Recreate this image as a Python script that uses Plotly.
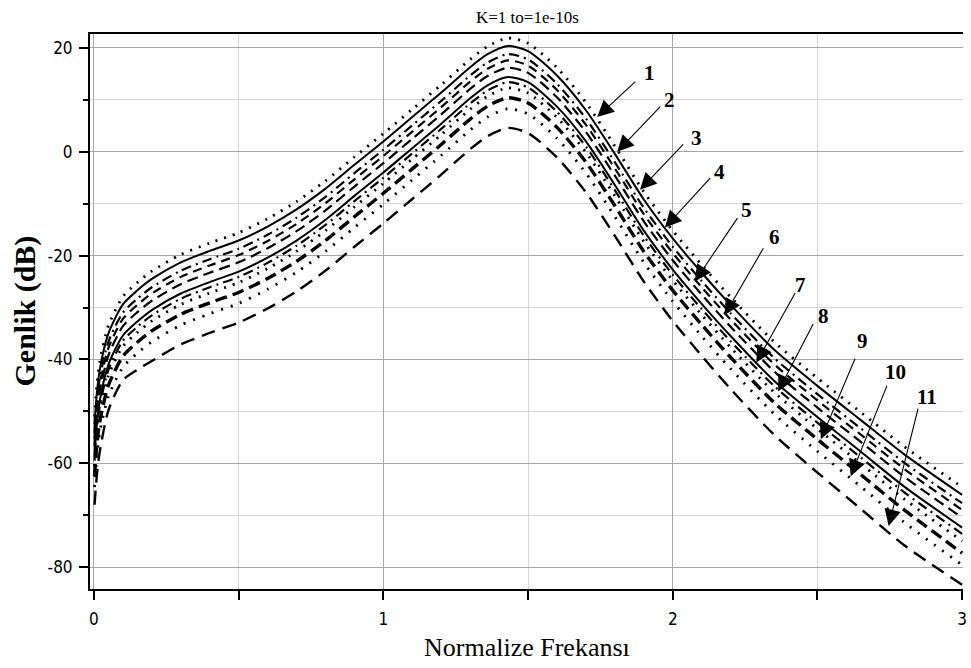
import plotly.graph_objects as go

# ---------------- data ----------------
X = [0.002, 0.01, 0.02, 0.05, 0.1, 0.15, 0.2, 0.3, 0.4, 0.5, 0.6, 0.7, 0.8, 0.9,
     1.0, 1.1, 1.2, 1.3, 1.36, 1.43, 1.5, 1.6, 1.7, 1.8, 1.9, 2.0, 2.1, 2.2,
     2.35, 2.5, 2.65, 2.8, 3.0]

c1 = [-51, -45, -40.5, -33.5, -27.9, -25.2, -23.0, -19.8, -17.6, -15.6, -12.9, -9.6, -5.6, -1.0,
      3.5, 8.2, 12.9, 17.8, 20.3, 21.9, 20.9, 16.2, 9.5, 1.1, -7.7, -15.2, -21.8, -28.0,
      -36.6, -43.6, -50.2, -56.8, -64.6]
c2 = [-52.5, -46.5, -42.0, -35.0, -29.4, -26.7, -24.5, -21.3, -19.1, -17.1, -14.4, -11.1, -7.1, -2.5,
      2.0, 6.7, 11.4, 16.3, 18.8, 20.4, 19.4, 14.7, 8.0, -0.4, -9.2, -16.7, -23.3, -29.5,
      -38.1, -45.1, -51.7, -58.3, -66.1]
c3 = [-54.1, -48.1, -43.6, -36.6, -31.0, -28.3, -26.1, -22.9, -20.7, -18.7, -16.0, -12.7, -8.7, -4.1,
      0.4, 5.1, 9.8, 14.7, 17.2, 18.8, 17.8, 13.1, 6.4, -2.0, -10.8, -18.3, -24.9, -31.1,
      -39.7, -46.7, -53.3, -59.9, -67.7]
c4 = [-55.3, -49.3, -44.8, -37.8, -32.2, -29.5, -27.3, -24.1, -21.9, -19.9, -17.2, -13.9, -9.9, -5.3,
      -0.8, 3.9, 8.6, 13.5, 16.0, 17.6, 16.6, 11.9, 5.2, -3.2, -12.0, -19.5, -26.1, -32.3,
      -40.9, -47.9, -54.5, -61.1, -69.0]
c5 = [-56.7, -50.7, -46.2, -39.2, -33.6, -30.9, -28.7, -25.5, -23.3, -21.3, -18.6, -15.3, -11.3, -6.7,
      -2.2, 2.5, 7.2, 12.1, 14.6, 16.2, 15.2, 10.5, 3.8, -4.6, -13.4, -20.9, -27.5, -33.7,
      -42.3, -49.3, -55.9, -62.6, -70.5]
c6 = [-58.5, -52.5, -48.0, -41.0, -35.4, -32.7, -30.5, -27.3, -25.1, -23.1, -20.4, -17.1, -13.1, -8.5,
      -4.0, 0.7, 5.4, 10.3, 12.8, 14.4, 13.4, 8.7, 2.0, -6.4, -15.2, -22.7, -29.3, -35.5,
      -44.1, -51.1, -57.8, -64.5, -72.4]
c7 = [-59.5, -53.5, -49.0, -42.0, -36.4, -33.7, -31.5, -28.3, -26.1, -24.1, -21.4, -18.1, -14.1, -9.5,
      -5.0, -0.3, 4.4, 9.3, 11.8, 13.4, 12.4, 7.7, 1.0, -7.4, -16.2, -23.7, -30.3, -36.5,
      -45.1, -52.2, -58.9, -65.6, -73.6]
c8 = [-60.6, -54.6, -50.1, -43.1, -37.5, -34.8, -32.6, -29.4, -27.2, -25.2, -22.5, -19.2, -15.2, -10.6,
      -6.1, -1.4, 3.3, 8.2, 10.7, 12.3, 11.3, 6.6, -0.1, -8.5, -17.3, -24.8, -31.4, -37.7,
      -46.3, -53.4, -60.1, -66.9, -75.0]
c9 = [-62.5, -56.5, -52.0, -45.0, -39.4, -36.7, -34.5, -31.3, -29.1, -27.1, -24.4, -21.1, -17.1, -12.5,
      -8.0, -3.3, 1.4, 6.3, 8.8, 10.4, 9.4, 4.7, -2.0, -10.4, -19.2, -26.7, -33.3, -39.6,
      -48.3, -55.4, -62.2, -69.0, -77.3]
c10 = [-64.6, -58.6, -54.1, -47.1, -41.5, -38.8, -36.6, -33.4, -31.2, -29.2, -26.5, -23.2, -19.2, -14.6,
       -10.1, -5.4, -0.7, 4.2, 6.7, 8.3, 7.3, 2.6, -4.1, -12.5, -21.3, -28.8, -35.5, -41.8,
       -50.5, -57.7, -64.5, -71.4, -79.6]
c11 = [-68.0, -62.3, -57.8, -49.8, -44.0, -42.0, -40.3, -37.1, -34.9, -32.9, -30.2, -26.9, -22.9, -18.3,
       -13.8, -9.1, -4.4, 0.5, 3.0, 4.6, 3.6, -1.1, -7.8, -16.2, -25.0, -32.6, -39.3, -45.7,
       -54.5, -61.8, -68.8, -75.8, -83.4]

SERIES = [c1, c2, c3, c4, c5, c6, c7, c8, c9, c10, c11]
CURVE_LABELS = ["1", "2", "3", "4", "5", "6", "7", "8", "9", "10", "11"]

Y_TICKS = [20, 0, -20, -40, -60, -80]
Y_TICK_TEXT = ["20", "0", "-20", "-40", "-60", "-80"]
X_TICKS = [0, 1, 2, 3]
X_TICK_TEXT = ["0", "1", "2", "3"]

# ---------------- styles ----------------
STYLES = [
    ("2px,7px", 2.8),
    ("solid", 2.0),
    ("10px,5px,2px,5px", 2.2),
    ("9px,6px", 2.2),
    ("11px,6px", 2.2),
    ("solid", 2.0),
    ("10px,5px,2px,5px", 2.2),
    ("2px,7px", 2.8),
    ("12px,6px", 3.4),
    ("2px,8px", 2.8),
    ("14px,8px", 2.4),
]

# arrow annotation geometry (tip, tail, label) in data coordinates
ARROW_TIP = [(1.739, 6.7), (1.808, 0.0), (1.887, -7.3), (1.973, -14.6), (2.076, -25.0),
             (2.179, -31.5), (2.289, -40.6), (2.364, -46.2), (2.512, -55.4), (2.615, -62.5),
             (2.746, -72.1)]
ARROW_TAIL = [(1.876, 13.8), (1.962, 9.0), (2.041, 1.7), (2.134, -4.8), (2.227, -12.5),
              (2.316, -18.3), (2.426, -26.9), (2.488, -32.9), (2.632, -39.6), (2.742, -44.8),
              (2.849, -49.2)]
LABEL_POS = [(1.921, 15.2), (1.990, 10.0), (2.082, 2.7), (2.162, -3.8), (2.254, -11.2),
             (2.351, -16.5), (2.443, -25.6), (2.522, -31.7), (2.656, -36.5), (2.770, -42.5),
             (2.880, -47.3)]

SERIF = "Liberation Serif, Times New Roman, serif"

fig = go.Figure()
for ys, (dash, w) in zip(SERIES, STYLES):
    fig.add_trace(go.Scatter(
        x=X, y=ys, mode="lines",
        line=dict(color="black", width=w, dash=dash, shape="spline", smoothing=0.7),
        showlegend=False, hoverinfo="skip"))

annotations = []
for (tx, ty), (ax, ay) in zip(ARROW_TIP, ARROW_TAIL):
    annotations.append(dict(
        x=tx, y=ty, ax=ax, ay=ay, xref="x", yref="y", axref="x", ayref="y",
        text="", showarrow=True, arrowhead=2, arrowsize=3.0, arrowwidth=1.1,
        arrowcolor="black", standoff=0, startstandoff=0))
for (lx, ly), lab in zip(LABEL_POS, CURVE_LABELS):
    annotations.append(dict(
        x=lx, y=ly, xref="x", yref="y", text="<b>%s</b>" % lab, showarrow=False,
        font=dict(family=SERIF, size=21, color="black"),
        xanchor="center", yanchor="middle"))

annotations.append(dict(
    x=0.5, y=0, xref="paper", yref="paper", yshift=-58, xanchor="center", yanchor="middle",
    text="Normalize Frekansı", showarrow=False,
    font=dict(family=SERIF, size=26, color="black")))
annotations.append(dict(
    x=0, y=0.5, xref="paper", yref="paper", xshift=-66, xanchor="center", yanchor="middle",
    text="<b>Genlik (dB)</b>", textangle=-90, showarrow=False,
    font=dict(family=SERIF, size=30, color="black")))
annotations.append(dict(
    x=487 / 971, y=1, xref="paper", yref="paper", yshift=17, xanchor="center", yanchor="middle",
    text="K=1 to=1e-10s", showarrow=False,
    font=dict(family=SERIF, size=17, color="black")))

tick_font = dict(family="DejaVu Sans Condensed, Liberation Sans Narrow, Liberation Sans, sans-serif",
                 size=17, color="black")

fig.update_layout(
    width=971, height=668,
    margin=dict(l=90, r=4, t=34, b=79),
    paper_bgcolor="white", plot_bgcolor="white",
    annotations=annotations,
    xaxis=dict(
        range=[-0.0137, 3.003], tickmode="array", tickvals=X_TICKS, ticktext=X_TICK_TEXT,
        showgrid=True, gridcolor="#a6a6a6", gridwidth=1, zeroline=False,
        showline=True, linecolor="black", linewidth=2, mirror=True,
        ticks="outside", ticklen=9, tickwidth=1.5, tickcolor="black",
        tickfont=tick_font, ticklabelstandoff=5,
        minor=dict(dtick=0.5, tick0=0, showgrid=True, gridcolor="#d6d6d6", gridwidth=1,
                   ticks="outside", ticklen=9, tickcolor="black", tickwidth=1.5),
    ),
    yaxis=dict(
        range=[-84.23, 22.69], tickmode="array", tickvals=Y_TICKS, ticktext=Y_TICK_TEXT,
        showgrid=True, gridcolor="#a6a6a6", gridwidth=1, zeroline=False,
        showline=True, linecolor="black", linewidth=2, mirror=False,
        ticks="outside", ticklen=9, tickwidth=1.5, tickcolor="black",
        tickfont=tick_font, ticklabelstandoff=3,
        minor=dict(dtick=10, tick0=0, showgrid=True, gridcolor="#d6d6d6", gridwidth=1,
                   ticks="outside", ticklen=5, tickcolor="black", tickwidth=1.5),
    ),
)

fig.write_html("out.html")
